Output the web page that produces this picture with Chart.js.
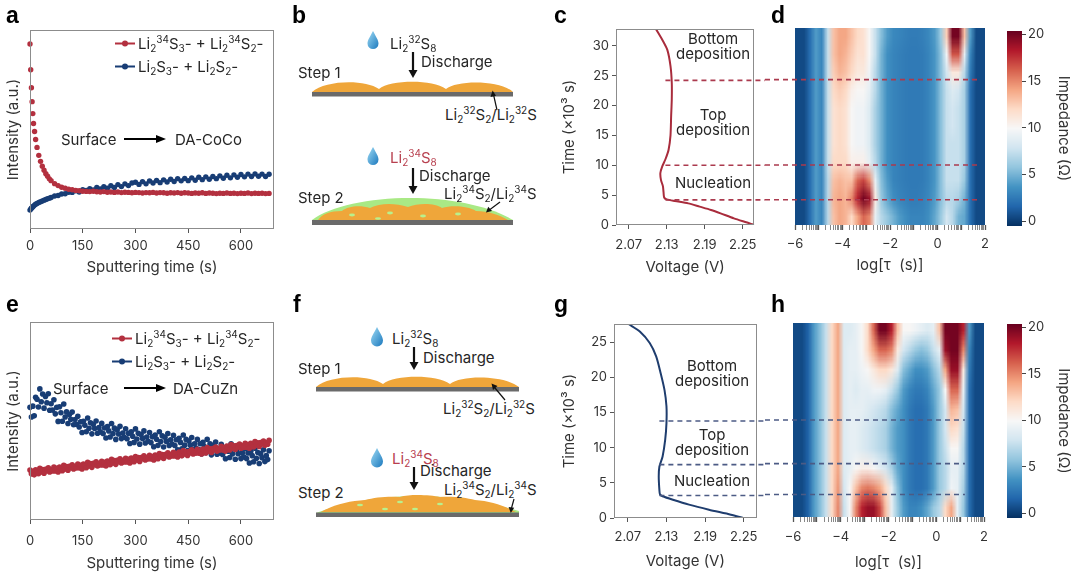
<!DOCTYPE html>
<html>
<head>
<meta charset="utf-8">
<script src="https://cdn.jsdelivr.net/npm/chart.js@4.4.1/dist/chart.umd.min.js"></script>
<style>
  body { margin: 0; background: #fff; width: 1080px; height: 575px; position: relative; overflow: hidden;
         font-family: Inter, "Noto Sans", sans-serif; }
  canvas, svg { position: absolute; }
  .t { position: absolute; font-size: 15px; line-height: 15px; color: #262626; white-space: nowrap; transform: translateY(-50%); }
  .c { transform: translate(-50%, -50%); text-align: center; }
  .t sub, .t sup { font-size: 10px; line-height: 0; position: relative; vertical-align: baseline; }
  .t sub { top: 3px; }
  .t sup { top: -6px; }
  .red { color: #b8404f; }
  .lbl { position: absolute; font: bold 23px "Liberation Sans", Arial, sans-serif; color: #000; line-height: 23px; }
  .mk { display: inline-block; position: relative; width: 20px; height: 2px; vertical-align: middle; margin-right: 3px; top: -1px; }
  .mk::after { content: ""; position: absolute; left: 7px; top: -2px; width: 6px; height: 6px; border-radius: 50%; background: inherit; }
</style>
</head>
<body>

<canvas id="ca" width="280" height="280" style="left:0;top:0"></canvas>
<canvas id="ce" width="280" height="285" style="left:0;top:290px"></canvas>
<canvas id="cc" width="215" height="280" style="left:550px;top:0"></canvas>
<canvas id="cg" width="215" height="285" style="left:550px;top:290px"></canvas>
<canvas id="cd" width="230" height="280" style="left:765px;top:0"></canvas>
<canvas id="ch" width="230" height="285" style="left:765px;top:290px"></canvas>
<canvas id="cbd" width="85" height="280" style="left:995px;top:0"></canvas>
<canvas id="cbh" width="85" height="285" style="left:995px;top:290px"></canvas>

<!-- schematic b -->
<svg width="260" height="240" style="left:290px;top:0">
  <defs>
    <linearGradient id="drop" x1="0" y1="0" x2="1" y2="1">
      <stop offset="0" stop-color="#9fdcf5"/><stop offset="1" stop-color="#1b78bd"/>
    </linearGradient>
  </defs>
  <path d="M83,31 C80,37 77.5,40 77.5,43.5 A5.5,5.5 0 0 0 88.5,43.5 C88.5,40 86,37 83,31Z" fill="url(#drop)"/>
  <line x1="123" y1="52" x2="123" y2="71" stroke="#111" stroke-width="2.2"/>
  <polygon points="118.5,70 127.5,70 123,78" fill="#111"/>
  <path d="M22,92 C35,80 75,79 89,89 C100,80 142,79 156,89 C167,80 210,80 223,92 Z" fill="#efa63a"/>
  <rect x="22" y="92" width="201" height="4.5" fill="#6a6a6a"/>
  <line x1="207" y1="110" x2="203.6" y2="95" stroke="#111" stroke-width="1.2"/>
  <polygon points="200.5,97 206,95.8 202.6,90.5" fill="#111"/>

  <path d="M83,147 C80,153 77.5,156 77.5,159.5 A5.5,5.5 0 0 0 88.5,159.5 C88.5,156 86,153 83,147Z" fill="url(#drop)"/>
  <line x1="123" y1="168" x2="123" y2="187" stroke="#111" stroke-width="2.2"/>
  <polygon points="118.5,186 127.5,186 123,194" fill="#111"/>
  <path d="M22,220 C40,206 80,198 120,198 C160,198 200,206 223,220 Z" fill="#a9e985"/>
  <path d="M28,220 C32,214 40,211 52,211 C58,206 70,205 80,208 C90,203 105,203 118,207 C128,203 145,203 152,208 C162,205 178,206 186,211 C198,211 210,215 218,220 Z" fill="#efa63a"/>
  <ellipse cx="62" cy="215" rx="3" ry="1.4" fill="#b9f08c"/>
  <ellipse cx="100" cy="213" rx="3" ry="1.4" fill="#b9f08c"/>
  <ellipse cx="133" cy="216" rx="3" ry="1.4" fill="#b9f08c"/>
  <ellipse cx="168" cy="214" rx="3" ry="1.4" fill="#b9f08c"/>
  <ellipse cx="88" cy="218.5" rx="3" ry="1.2" fill="#b9f08c"/>
  <rect x="22" y="220" width="201" height="5" fill="#6a6a6a"/>
  <line x1="210" y1="202" x2="200" y2="209.5" stroke="#111" stroke-width="1.2"/>
  <polygon points="196,212.5 198.2,206.8 202,211" fill="#111"/>
</svg>

<!-- schematic f -->
<svg width="260" height="240" style="left:290px;top:290px">
  <defs>
    <linearGradient id="drop2" x1="0" y1="0" x2="1" y2="1">
      <stop offset="0" stop-color="#9fdcf5"/><stop offset="1" stop-color="#1b78bd"/>
    </linearGradient>
  </defs>
  <path d="M87,37 C84,43 81,47 81,50.5 A6,6 0 0 0 93,50.5 C93,47 90,43 87,37Z" fill="url(#drop2)"/>
  <line x1="124" y1="57" x2="124" y2="73" stroke="#111" stroke-width="2.2"/>
  <polygon points="119.5,72 128.5,72 124,80" fill="#111"/>
  <path d="M26,97 C39,85 79,84 93,94 C104,85 146,84 160,94 C171,85 214,85 229,97 Z" fill="#efa63a"/>
  <rect x="26" y="97" width="203" height="4.5" fill="#6a6a6a"/>
  <line x1="215" y1="110" x2="205" y2="98" stroke="#111" stroke-width="1.2"/>
  <polygon points="201.5,93.5 207.5,96 203,100" fill="#111"/>

  <path d="M87,158 C84,164 81,168 81,171.5 A6,6 0 0 0 93,171.5 C93,168 90,164 87,158Z" fill="url(#drop2)"/>
  <line x1="124" y1="177" x2="124" y2="193" stroke="#111" stroke-width="2.2"/>
  <polygon points="119.5,192 128.5,192 124,200" fill="#111"/>
  <path d="M26,223 C50,214 90,206 125,206 C170,206 205,214 229,221 L229,223 Z" fill="#a9e985"/>
  <path d="M31,222 C45,214 60,211 75,210 C85,207 100,206 110,207 C120,204 140,205 150,207 C160,206 175,207 185,210 C200,211 215,216 226,222 Z" fill="#efa63a"/>
  <ellipse cx="70" cy="215" rx="3" ry="1.3" fill="#b9f08c"/>
  <ellipse cx="110" cy="212" rx="3" ry="1.3" fill="#b9f08c"/>
  <ellipse cx="150" cy="214" rx="3" ry="1.3" fill="#b9f08c"/>
  <ellipse cx="125" cy="219" rx="3" ry="1.2" fill="#b9f08c"/>
  <ellipse cx="95" cy="219" rx="3" ry="1.2" fill="#b9f08c"/>
  <rect x="26" y="222.5" width="203" height="4.5" fill="#6a6a6a"/>
  <line x1="224" y1="209" x2="221.5" y2="218" stroke="#111" stroke-width="1.2"/>
  <polygon points="220.8,223 218.6,217 224.2,217.8" fill="#111"/>
</svg>

<!-- panel letters -->
<div class="lbl" style="left:6px;top:4px">a</div>
<div class="lbl" style="left:292px;top:4px">b</div>
<div class="lbl" style="left:554px;top:4px">c</div>
<div class="lbl" style="left:771px;top:4px">d</div>
<div class="lbl" style="left:6px;top:293px">e</div>
<div class="lbl" style="left:293px;top:293px">f</div>
<div class="lbl" style="left:554px;top:293px">g</div>
<div class="lbl" style="left:771px;top:293px">h</div>

<!-- panel a texts -->
<div class="t" style="left:115px;top:43px"><span class="mk" style="background:#b3303f"></span>Li<sub>2</sub><sup>34</sup>S<sub>3</sub>- + Li<sub>2</sub><sup>34</sup>S<sub>2</sub>-</div>
<div class="t" style="left:115px;top:66px"><span class="mk" style="background:#183d75"></span>Li<sub>2</sub>S<sub>3</sub>- + Li<sub>2</sub>S<sub>2</sub>-</div>
<div class="t" style="left:61px;top:139px">Surface</div>
<svg width="44" height="10" style="left:124px;top:134px"><line x1="0" y1="5" x2="34" y2="5" stroke="#000" stroke-width="2"/><polygon points="32,1 42,5 32,9" fill="#000"/></svg>
<div class="t" style="left:175px;top:139px">DA-CoCo</div>

<!-- panel e texts -->
<div class="t" style="left:112px;top:338px"><span class="mk" style="background:#b3303f"></span>Li<sub>2</sub><sup>34</sup>S<sub>3</sub>- + Li<sub>2</sub><sup>34</sup>S<sub>2</sub>-</div>
<div class="t" style="left:112px;top:361px"><span class="mk" style="background:#183d75"></span>Li<sub>2</sub>S<sub>3</sub>- + Li<sub>2</sub>S<sub>2</sub>-</div>
<div class="t" style="left:53px;top:388px">Surface</div>
<svg width="44" height="10" style="left:124px;top:383px"><line x1="0" y1="5" x2="34" y2="5" stroke="#000" stroke-width="2"/><polygon points="32,1 42,5 32,9" fill="#000"/></svg>
<div class="t" style="left:173px;top:388px">DA-CuZn</div>

<!-- panel b texts -->
<div class="t" style="left:390px;top:43px">Li<sub>2</sub><sup>32</sup>S<sub>8</sub></div>
<div class="t" style="left:421px;top:61px">Discharge</div>
<div class="t" style="left:298px;top:72px">Step 1</div>
<div class="t" style="left:445px;top:114px">Li<sub>2</sub><sup>32</sup>S<sub>2</sub>/Li<sub>2</sub><sup>32</sup>S</div>
<div class="t red" style="left:390px;top:157px">Li<sub>2</sub><sup>34</sup>S<sub>8</sub></div>
<div class="t" style="left:419px;top:175px">Discharge</div>
<div class="t" style="left:298px;top:197px">Step 2</div>
<div class="t" style="left:444px;top:193px">Li<sub>2</sub><sup>34</sup>S<sub>2</sub>/Li<sub>2</sub><sup>34</sup>S</div>

<!-- panel f texts -->
<div class="t" style="left:392px;top:338px">Li<sub>2</sub><sup>32</sup>S<sub>8</sub></div>
<div class="t" style="left:423px;top:357px">Discharge</div>
<div class="t" style="left:298px;top:368px">Step 1</div>
<div class="t" style="left:443px;top:408px">Li<sub>2</sub><sup>32</sup>S<sub>2</sub>/Li<sub>2</sub><sup>32</sup>S</div>
<div class="t red" style="left:392px;top:458px">Li<sub>2</sub><sup>34</sup>S<sub>8</sub></div>
<div class="t" style="left:420px;top:470px">Discharge</div>
<div class="t" style="left:298px;top:492px">Step 2</div>
<div class="t" style="left:444px;top:489px">Li<sub>2</sub><sup>34</sup>S<sub>2</sub>/Li<sub>2</sub><sup>34</sup>S</div>

<!-- panel c / g stage labels -->
<div class="t c" style="left:713px;top:46px">Bottom<br>deposition</div>
<div class="t c" style="left:713px;top:122px">Top<br>deposition</div>
<div class="t c" style="left:713px;top:182px">Nucleation</div>
<div class="t c" style="left:712px;top:373px">Bottom<br>deposition</div>
<div class="t c" style="left:712px;top:442px">Top<br>deposition</div>
<div class="t c" style="left:712px;top:480px">Nucleation</div>

<script>
// ---- data ----
const sputterTicks = [0, 150, 300, 450, 600];
const voltTicks = [2.07, 2.13, 2.19, 2.25];
const tauLabels = [-6, -4, -2, 0, 2];
const impTicks = [0, 5, 10, 15, 20];

// panel a: ToF-SIMS depth profile on DA-CoCo (normalised intensity)
const aTime = [0, 2, 4, 6, 8, 10, 13, 16, 20, 25, 30, 35, 40, 45, 50, 55, 60,
  70, 80, 90, 100, 110, 120, 130, 140, 150, 160, 170, 180, 190, 200, 210, 220, 230, 240, 250, 260,
  270, 280, 290, 300, 310, 320, 330, 340, 350, 360, 370, 380, 390, 400, 410, 420, 430, 440, 450, 460,
  470, 480, 490, 500, 510, 520, 530, 540, 550, 560, 570, 580, 590, 600, 610, 620, 630, 640, 650, 660, 670, 680];
const aRed34 = [0.93, 0.80, 0.71, 0.64, 0.58, 0.53, 0.49, 0.45, 0.41, 0.37, 0.34, 0.315, 0.295, 0.278, 0.265, 0.252, 0.243,
  0.228, 0.218, 0.21, 0.205, 0.2, 0.197, 0.194, 0.192, 0.19, 0.189,
  0.188, 0.19, 0.187, 0.186, 0.188, 0.185, 0.186, 0.184, 0.186, 0.183,
  0.185, 0.184, 0.182, 0.184, 0.183, 0.181, 0.183, 0.182, 0.184, 0.181,
  0.183, 0.182, 0.18, 0.182, 0.181, 0.183, 0.18, 0.182, 0.181, 0.179,
  0.181, 0.18, 0.182, 0.179, 0.181, 0.18, 0.178, 0.18, 0.179, 0.181,
  0.179, 0.18, 0.178, 0.18, 0.179, 0.181, 0.178, 0.18, 0.179, 0.18, 0.178, 0.179];
const aBlue32 = [0.095, 0.1, 0.104, 0.108, 0.112, 0.115, 0.12, 0.124, 0.128, 0.133, 0.137, 0.141, 0.145, 0.148, 0.152, 0.155, 0.158,
  0.166, 0.168, 0.176, 0.177, 0.185, 0.184, 0.192, 0.186, 0.197, 0.194,
  0.203, 0.196, 0.209, 0.201, 0.213, 0.205, 0.217, 0.209, 0.223, 0.213,
  0.227, 0.218, 0.231, 0.235, 0.224, 0.238, 0.227, 0.241, 0.231, 0.244,
  0.233, 0.247, 0.236, 0.25, 0.239, 0.253, 0.242, 0.254, 0.243, 0.257,
  0.245, 0.26, 0.248, 0.262, 0.25, 0.264, 0.253, 0.267, 0.255, 0.27,
  0.257, 0.272, 0.26, 0.274, 0.262, 0.276, 0.264, 0.277, 0.265, 0.276, 0.264, 0.275];

// panel e: ToF-SIMS depth profile on DA-CuZn
const eTime = [0, 4, 8, 12, 16, 20, 24, 28, 32, 36, 40, 44, 48, 52, 56, 60, 64, 68, 72, 76,
  80, 84, 88, 92, 96, 100, 104, 108, 112, 116, 120, 124, 128, 132, 136, 140, 144, 148, 152, 156,
  160, 164, 168, 172, 176, 180, 184, 188, 192, 196, 200, 204, 208, 212, 216, 220, 224, 228, 232, 236,
  240, 244, 248, 252, 256, 260, 264, 268, 272, 276, 280, 284, 288, 292, 296, 300, 304, 308, 312, 316,
  320, 324, 328, 332, 336, 340, 344, 348, 352, 356, 360, 364, 368, 372, 376, 380, 384, 388, 392, 396,
  400, 404, 408, 412, 416, 420, 424, 428, 432, 436, 440, 444, 448, 452, 456, 460, 464, 468, 472, 476,
  480, 484, 488, 492, 496, 500, 504, 508, 512, 516, 520, 524, 528, 532, 536, 540, 544, 548, 552, 556,
  560, 564, 568, 572, 576, 580, 584, 588, 592, 596, 600, 604, 608, 612, 616, 620, 624, 628, 632, 636,
  640, 644, 648, 652, 656, 660, 664, 668, 672, 676, 680];
const eRed34 = [0.252, 0.233, 0.246, 0.228, 0.253, 0.244, 0.234, 0.261, 0.243, 0.255,
  0.236, 0.256, 0.249, 0.264, 0.243, 0.255, 0.248, 0.267, 0.248, 0.261,
  0.243, 0.268, 0.259, 0.249, 0.276, 0.258, 0.27, 0.251, 0.271, 0.264,
  0.279, 0.258, 0.27, 0.263, 0.282, 0.263, 0.276, 0.258, 0.283, 0.274,
  0.264, 0.291, 0.273, 0.285, 0.266, 0.286, 0.279, 0.294, 0.273, 0.285,
  0.278, 0.297, 0.278, 0.291, 0.273, 0.298, 0.289, 0.279, 0.306, 0.288,
  0.3, 0.281, 0.301, 0.294, 0.309, 0.288, 0.3, 0.293, 0.312, 0.293,
  0.306, 0.288, 0.313, 0.304, 0.294, 0.321, 0.303, 0.315, 0.296, 0.316,
  0.309, 0.324, 0.303, 0.315, 0.308, 0.327, 0.308, 0.321, 0.303, 0.328,
  0.319, 0.309, 0.336, 0.318, 0.33, 0.311, 0.331, 0.324, 0.339, 0.318,
  0.33, 0.323, 0.342, 0.323, 0.336, 0.318, 0.343, 0.334, 0.324, 0.351,
  0.333, 0.345, 0.326, 0.346, 0.339, 0.354, 0.333, 0.345, 0.338, 0.357,
  0.338, 0.351, 0.333, 0.358, 0.349, 0.339, 0.366, 0.348, 0.36, 0.341,
  0.361, 0.354, 0.369, 0.348, 0.36, 0.353, 0.372, 0.353, 0.366, 0.348,
  0.373, 0.364, 0.354, 0.381, 0.363, 0.375, 0.356, 0.376, 0.369, 0.384,
  0.363, 0.375, 0.368, 0.387, 0.368, 0.381, 0.363, 0.388, 0.379, 0.369,
  0.396, 0.378, 0.39, 0.371, 0.391, 0.384, 0.399, 0.378, 0.39, 0.383, 0.402];
const eBlue32 = [0.569, 0.52, 0.575, 0.526, 0.62, 0.61, 0.571, 0.662, 0.597, 0.636,
  0.565, 0.624, 0.592, 0.638, 0.554, 0.587, 0.555, 0.607, 0.536, 0.569,
  0.498, 0.572, 0.542, 0.499, 0.586, 0.52, 0.546, 0.487, 0.533, 0.509,
  0.545, 0.481, 0.507, 0.483, 0.524, 0.47, 0.496, 0.442, 0.499, 0.478,
  0.446, 0.515, 0.463, 0.491, 0.435, 0.483, 0.462, 0.5, 0.438, 0.467,
  0.445, 0.488, 0.437, 0.465, 0.414, 0.472, 0.45, 0.419, 0.487, 0.436,
  0.464, 0.407, 0.456, 0.434, 0.473, 0.411, 0.439, 0.418, 0.461, 0.41,
  0.438, 0.386, 0.445, 0.423, 0.392, 0.46, 0.409, 0.438, 0.383, 0.432,
  0.411, 0.45, 0.389, 0.419, 0.398, 0.442, 0.391, 0.42, 0.37, 0.429,
  0.408, 0.377, 0.446, 0.396, 0.425, 0.369, 0.418, 0.397, 0.437, 0.376,
  0.405, 0.384, 0.428, 0.376, 0.405, 0.354, 0.413, 0.392, 0.36, 0.429,
  0.378, 0.407, 0.351, 0.399, 0.378, 0.417, 0.356, 0.385, 0.363, 0.407,
  0.356, 0.385, 0.334, 0.392, 0.371, 0.34, 0.408, 0.357, 0.385, 0.329,
  0.377, 0.355, 0.394, 0.332, 0.361, 0.339, 0.382, 0.331, 0.36, 0.309,
  0.368, 0.347, 0.316, 0.385, 0.334, 0.363, 0.307, 0.356, 0.335, 0.374,
  0.31, 0.339, 0.318, 0.361, 0.31, 0.339, 0.288, 0.347, 0.325, 0.294,
  0.363, 0.312, 0.341, 0.285, 0.335, 0.315, 0.355, 0.295, 0.325, 0.305, 0.35];

// panels c, g: discharge curves (time in 10^3 s vs voltage)
const cTime = [0, 0.28, 1.11, 1.95, 2.51, 3.07, 3.62, 4.01, 4.29, 4.6, 5.5, 6.5, 7.5, 8.7, 9.8, 11, 12.6, 15, 18.2, 21, 23.8, 26.6, 29.3, 31, 32.8];
const cVoltage = [2.268, 2.261, 2.236, 2.215, 2.2, 2.182, 2.164, 2.143, 2.13, 2.126, 2.125, 2.124, 2.121, 2.12, 2.123, 2.128, 2.133, 2.136, 2.137, 2.138, 2.138, 2.136, 2.131, 2.123, 2.113];
const gTime = [0, 0.47, 1.18, 1.9, 2.6, 3.1, 3.35, 4.0, 5.9, 7.3, 8.76, 11.1, 13.5, 15.9, 18.2, 20.6, 23, 24.9, 26.5, 27.6];
const gVoltage = [2.249, 2.23, 2.196, 2.165, 2.14, 2.124, 2.12, 2.119, 2.118, 2.119, 2.124, 2.128, 2.13, 2.13, 2.127, 2.121, 2.114, 2.104, 2.089, 2.071];
const cStageBounds = [4.2, 10.0, 24.2];
const gStageBounds = [3.2, 7.6, 13.8];

// panels d, h: DRT impedance maps (rows = time in 10^3 s, columns = log tau)
const tauCols = [-5.875, -5.625, -5.375, -5.125, -4.875, -4.625, -4.375, -4.125, -3.875, -3.625, -3.375, -3.125,
  -2.875, -2.625, -2.375, -2.125, -1.875, -1.625, -1.375, -1.125, -0.875, -0.625, -0.375, -0.125,
  0.125, 0.375, 0.625, 0.875, 1.125, 1.375, 1.625, 1.875];
const dRowTimes = [1.5, 4.5, 7.5, 10.5, 13.5, 16.5, 19.5, 22.5, 25.5, 28.5, 31.5];
const dImpedance = [
  [0.5, 0.5, 2, 4, 3, 7, 13, 14, 13.5, 12, 14, 16, 15, 9, 7, 6, 5, 4, 3.5, 3, 3, 3, 3.5, 4.5, 6, 8, 7, 5, 4.5, 2, 0.5, 0.5],
  [0.5, 0.5, 2, 4, 3, 7, 13.5, 14, 13.5, 15, 18, 20, 19, 11, 6, 4.5, 3.5, 3, 2.8, 2.6, 2.6, 2.8, 3.2, 4, 5.5, 7, 7, 6.5, 5, 2, 0.5, 0.5],
  [0.5, 0.5, 2, 4, 3, 7, 13, 13.5, 13, 13, 16, 17, 15, 9, 5.5, 4, 3, 2.8, 2.6, 2.5, 2.5, 2.6, 3, 3.8, 5.5, 7.5, 7.5, 7.5, 6, 2, 0.5, 0.5],
  [0.5, 0.5, 2, 4, 3, 7.5, 12, 12, 12, 10.5, 10.5, 10.5, 9, 7, 5, 3.5, 3, 2.8, 2.6, 2.5, 2.5, 2.6, 3, 3.8, 5.5, 7.5, 7.5, 7.5, 6.5, 2, 0.5, 0.5],
  [0.5, 0.5, 2, 4, 3, 7.5, 11.5, 12, 11.5, 10, 9.5, 9.5, 8.5, 6.5, 5, 3.5, 3, 2.8, 2.6, 2.5, 2.5, 2.6, 3, 3.8, 5.5, 7.5, 7.5, 7.5, 6.5, 2, 0.5, 0.5],
  [0.5, 0.5, 2, 4, 3, 7.5, 11.5, 12, 11.5, 10, 9.5, 9.5, 8.5, 6.5, 5, 3.5, 3, 2.8, 2.6, 2.5, 2.5, 2.6, 3, 3.8, 5.5, 7.5, 8, 7.5, 6.5, 2, 0.5, 0.5],
  [0.5, 0.5, 2, 4, 3, 7.5, 11.5, 12, 11.5, 10, 9.5, 9.5, 8.5, 6.5, 5, 3.5, 3, 2.8, 2.6, 2.5, 2.5, 2.6, 3, 3.8, 5.5, 7.5, 8, 7.5, 6.5, 2, 0.5, 0.5],
  [0.5, 0.5, 2, 4, 3, 7.5, 12, 12.5, 12, 10.5, 10, 10, 9, 7, 5, 3.5, 3, 2.8, 2.6, 2.5, 2.5, 2.6, 3, 3.8, 5.5, 7.5, 8.5, 8, 6.5, 2, 0.5, 0.5],
  [0.5, 0.5, 2, 4, 3, 7.5, 12.5, 13.5, 13, 12, 11, 11, 9.5, 7, 5, 3.5, 3, 2.8, 2.6, 2.5, 2.5, 2.6, 3, 3.8, 5.5, 8, 11, 11, 7, 2.5, 0.5, 0.5],
  [0.5, 0.5, 2, 4, 3, 7.5, 13, 14, 13.5, 12.5, 11.5, 11.5, 10, 7.5, 5, 3.5, 3, 2.8, 2.6, 2.5, 2.5, 2.6, 3, 3.8, 5.5, 9.5, 16.5, 16.5, 9, 3, 0.5, 0.5],
  [0.5, 0.5, 2, 4, 3, 7.5, 13, 14, 14, 13, 12, 11.5, 10, 7.5, 5.5, 4, 3.2, 3, 2.8, 2.6, 2.6, 2.8, 3.2, 4, 6, 12.5, 20, 20, 13, 4, 0.5, 0.5]
];
const hRowTimes = [1.4, 4.2, 7.0, 9.8, 12.6, 15.4, 18.2, 21.0, 23.8, 26.6];
const hImpedance = [
  [0.5, 0.5, 1.5, 4, 5.5, 7.5, 12, 15, 7.5, 10, 15, 18, 19, 19, 17, 13, 9, 6, 4, 3, 3, 3.5, 4.5, 6, 7, 12, 14, 9, 6, 2, 0.5, 0.5],
  [0.5, 0.5, 1.5, 4, 5.5, 7.5, 12, 14.5, 8, 10, 13, 15, 15.5, 15, 14, 12, 9, 5.5, 3.5, 2.5, 2, 2, 2.5, 4, 6, 7, 9.5, 9, 6.5, 2, 0.5, 0.5],
  [0.5, 0.5, 1.5, 4, 5.5, 7.5, 12, 14, 8.5, 9, 10, 10.5, 10.5, 10, 9, 8, 6.5, 4.5, 3.5, 2.5, 2, 2, 2.5, 4, 6, 7, 9, 9, 7, 2, 0.5, 0.5],
  [0.5, 0.5, 1.5, 4, 5.5, 7.5, 12, 14, 8.5, 9, 9, 8.5, 8, 7.5, 7, 6.5, 5, 4, 3.5, 2.5, 2, 2, 2.5, 4, 6, 7.5, 10, 10, 7, 2, 0.5, 0.5],
  [0.5, 0.5, 1.5, 4, 5.5, 7.5, 12, 14, 8.5, 9, 9, 8.5, 8, 7.5, 7, 6.5, 5, 4, 3.5, 2.5, 2, 2, 2.5, 4, 6, 8, 12, 11.5, 7.5, 2, 0.5, 0.5],
  [0.5, 0.5, 1.5, 4, 5.5, 7.5, 12, 14, 8.5, 9, 9, 9, 8.5, 8, 7.5, 7, 5.5, 4.5, 3.5, 2.5, 2, 2, 2.5, 4, 6, 8, 13.5, 13, 8, 2, 0.5, 0.5],
  [0.5, 0.5, 1.5, 4, 5.5, 7.5, 12, 14, 8.5, 9, 8.5, 9, 9, 9.5, 9.5, 9, 7.5, 6, 4, 3, 2.5, 2.5, 3, 4.5, 6, 10, 16, 16, 9, 2, 0.5, 0.5],
  [0.5, 0.5, 1.5, 4, 5.5, 7.5, 12, 14, 8.5, 9, 9, 9.5, 10, 11, 12, 12, 11, 8.5, 5.5, 4.5, 3.5, 3.5, 4, 5.5, 7, 14, 19, 19, 11, 2.5, 0.5, 0.5],
  [0.5, 0.5, 1.5, 4, 5.5, 7.5, 12, 14, 8.5, 9, 9, 10, 12, 14, 16, 16, 15, 11, 8, 7, 6, 5.5, 6, 7.5, 9, 19, 20, 20, 15, 3, 0.5, 0.5],
  [0.5, 0.5, 1.5, 4, 5.5, 7.5, 12, 14, 8.5, 8.5, 9, 10, 12, 16, 20, 20, 18, 13, 10, 10, 9.5, 9, 8.5, 9, 13, 20, 20, 20, 18, 4, 0.5, 0.5]
];

// ---- styling ----
const RED = '#b3303f';
const NAVY = '#183d75';
const IMP_MIN = -0.5, IMP_MAX = 20.35;
const RDBU = ['#053061', '#2166ac', '#4393c3', '#92c5de', '#d1e5f0', '#f7f7f7', '#fddbc7', '#f4a582', '#d6604d', '#b2182b', '#67001f'];

Chart.defaults.font.family = 'Inter, "Noto Sans", sans-serif';
Chart.defaults.font.size = 13;
Chart.defaults.color = '#333';
Chart.defaults.animation = false;
Chart.defaults.events = [];
Chart.defaults.plugins.legend.display = false;
Chart.defaults.plugins.tooltip.enabled = false;

const hex = h => [1, 3, 5].map(i => parseInt(h.slice(i, i + 2), 16));
function impColor(v) {
  let f = (v - IMP_MIN) / (IMP_MAX - IMP_MIN);
  f = Math.max(0, Math.min(1, f)) * (RDBU.length - 1);
  const i = Math.min(Math.floor(f), RDBU.length - 2), w = f - i;
  const a = hex(RDBU[i]), b = hex(RDBU[i + 1]);
  return a.map((c, k) => Math.round(c + (b[k] - c) * w));
}

const pts = (xs, ys) => xs.map((x, i) => ({ x, y: ys[i] }));
const fixTicks = list => s => { s.ticks = list.map(v => ({ value: v })); };
const TITLE_FONT = { size: 15 };

// full box around the plot area
const frame = {
  id: 'frame',
  afterDraw(ch) {
    const { ctx, chartArea: c } = ch;
    ctx.save();
    ctx.strokeStyle = '#8c8c8c';
    ctx.lineWidth = 1;
    ctx.strokeRect(Math.round(c.left) + 0.5, Math.round(c.top) + 0.5, Math.round(c.width) - 1, Math.round(c.height) - 1);
    ctx.restore();
  }
};

// dashed stage boundaries
function stageLines(bounds, color, fromX, toX) {
  return {
    id: 'stages',
    afterDraw(ch) {
      const { ctx, scales: { y } } = ch;
      ctx.save();
      ctx.strokeStyle = color;
      ctx.lineWidth = 1.6;
      ctx.setLineDash([5, 4]);
      bounds.forEach(t => {
        const py = y.getPixelForValue(t);
        ctx.beginPath();
        ctx.moveTo(fromX(ch), py);
        ctx.lineTo(toX(ch), py);
        ctx.stroke();
      });
      ctx.restore();
    }
  };
}

// impedance map: one image pixel per cell, placed with the chart scales
function heatmap(grid, cols, rows) {
  return {
    id: 'heat',
    beforeDatasetsDraw(ch) {
      const { ctx, chartArea: a, scales: { x, y } } = ch;
      const off = document.createElement('canvas');
      off.width = cols.length;
      off.height = rows.length;
      const octx = off.getContext('2d');
      const img = octx.createImageData(cols.length, rows.length);
      grid.forEach((row, j) => row.forEach((v, i) => {
        const k = ((rows.length - 1 - j) * cols.length + i) * 4;
        const [r, g, b] = impColor(v);
        img.data[k] = r; img.data[k + 1] = g; img.data[k + 2] = b; img.data[k + 3] = 255;
      }));
      octx.putImageData(img, 0, 0);
      const hx = (cols[1] - cols[0]) / 2, hy = (rows[1] - rows[0]) / 2;
      const left = x.getPixelForValue(cols[0] - hx), right = x.getPixelForValue(cols[cols.length - 1] + hx);
      const top = y.getPixelForValue(rows[rows.length - 1] + hy), bottom = y.getPixelForValue(rows[0] - hy);
      ctx.save();
      ctx.beginPath();
      ctx.rect(a.left, a.top, a.width, a.height);
      ctx.clip();
      ctx.imageSmoothingEnabled = true;
      ctx.drawImage(off, left, top, right - left, bottom - top);
      ctx.restore();
    }
  };
}

const colorbar = {
  id: 'cbar',
  beforeDatasetsDraw(ch) {
    const { ctx, chartArea: a, scales: { y } } = ch;
    for (let py = Math.floor(a.top); py < a.bottom; py++) {
      const [r, g, b] = impColor(y.getValueForPixel(py + 0.5));
      ctx.fillStyle = `rgb(${r},${g},${b})`;
      ctx.fillRect(a.left, py, a.width, 1);
    }
  }
};

const tickGrid = { display: true, drawOnChartArea: false, tickLength: 4, color: '#555' };

// ---- panels a, e ----
function depthChart(id, time, red, blue, opt) {
  return new Chart(id, {
    type: 'scatter',
    data: {
      datasets: [
        { data: pts(time, red), backgroundColor: RED, pointRadius: opt.r, pointBorderWidth: 0, clip: 5 },
        { data: pts(time, blue), backgroundColor: NAVY, pointRadius: opt.r, pointBorderWidth: 0, clip: 5 }
      ]
    },
    options: {
      responsive: false,
      layout: { padding: { top: opt.top, right: 6 } },
      scales: {
        x: {
          min: 0, max: 694,
          afterBuildTicks: fixTicks(sputterTicks),
          afterFit: s => { s.height = opt.xh; },
          grid: tickGrid, border: { display: false },
          ticks: { padding: opt.tp, maxRotation: 0 },
          title: { display: true, text: 'Sputtering time (s)', font: TITLE_FONT, padding: { top: 0, bottom: opt.tb } }
        },
        y: {
          min: 0, max: 1,
          afterFit: s => { s.width = 30; },
          ticks: { display: false }, grid: { display: false }, border: { display: false },
          title: { display: true, text: 'Intensity (a.u.)', font: TITLE_FONT, padding: { top: 4, bottom: 0 } }
        }
      }
    },
    plugins: [frame]
  });
}
depthChart('ca', aTime, aRed34, aBlue32, { top: 30, xh: 51, tp: 5, tb: 4, r: 2.7 });
depthChart('ce', eTime, eRed34, eBlue32, { top: 32, xh: 55, tp: 9, tb: 3, r: 2.8 });

// ---- panels c, g ----
function dischargeChart(id, volt, time, color, opt) {
  return new Chart(id, {
    type: 'scatter',
    data: {
      datasets: [{ data: pts(volt, time), showLine: true, borderColor: color, borderWidth: 2,
        pointRadius: 0, tension: 0.25 }]
    },
    options: {
      responsive: false,
      layout: { padding: { top: opt.top, right: 6 } },
      scales: {
        x: {
          min: opt.vmin, max: opt.vmax,
          afterBuildTicks: fixTicks(voltTicks),
          afterFit: s => { s.height = opt.xh; },
          grid: tickGrid, border: { display: false },
          ticks: { padding: opt.tp, maxRotation: 0, callback: v => v.toFixed(2) },
          title: { display: true, text: 'Voltage (V)', font: TITLE_FONT, padding: { top: 0, bottom: opt.tb } }
        },
        y: {
          min: 0, max: opt.tmax,
          afterBuildTicks: fixTicks(opt.yt),
          afterFit: s => { s.width = opt.yw; },
          grid: tickGrid, border: { display: false },
          ticks: { padding: 3 },
          title: { display: true, text: 'Time (×10³ s)', font: TITLE_FONT, padding: { top: 10, bottom: 0 } }
        }
      }
    },
    plugins: [frame, stageLines(opt.bounds, opt.dash, ch => ch.scales.x.getPixelForValue(opt.dashFrom), ch => ch.width)]
  });
}
dischargeChart('cc', cVoltage, cTime, '#a92c3c', {
  top: 29, xh: 55, yw: 66, tp: 8, tb: 4, vmin: 2.05, vmax: 2.268, tmax: 32.8,
  yt: [0, 5, 10, 15, 20, 25, 30], bounds: cStageBounds, dash: '#ab3a4e', dashFrom: 2.128
});
dischargeChart('cg', gVoltage, gTime, '#1f3d6e', {
  top: 34, xh: 57, yw: 64, tp: 7, tb: 5, vmin: 2.0485, vmax: 2.27, tmax: 27.6,
  yt: [0, 5, 10, 15, 20, 25], bounds: gStageBounds, dash: '#4c5b85', dashFrom: 2.119
});

// ---- panels d, h ----
const tauTicks = [];
for (let n = -6; n < 2; n++) for (let k = 1; k <= 9; k++) tauTicks.push(n + Math.log10(k));
tauTicks.push(2);

function impedanceMap(id, grid, rows, opt) {
  return new Chart(id, {
    type: 'scatter',
    data: { datasets: [] },
    options: {
      responsive: false,
      layout: { padding: { left: opt.left, top: opt.top, right: 5 } },
      scales: {
        x: {
          min: -6, max: 2,
          afterBuildTicks: fixTicks(tauTicks),
          afterFit: s => { s.height = opt.xh; },
          grid: { display: true, drawOnChartArea: false, tickLength: 5, color: '#555',
                  tickWidth: c => Number.isInteger(Math.round(c.tick.value * 1e6) / 1e6) ? 1.3 : 0.7 },
          border: { display: false },
          ticks: { padding: opt.tp, autoSkip: false, maxRotation: 0,
                   callback: v => tauLabels.some(l => Math.abs(l - v) < 1e-9) ? String(Math.round(v)).replace('-', '−') : '' },
          title: { display: true, text: 'log[τ  (s)]', font: TITLE_FONT, padding: { top: 0, bottom: opt.tb } }
        },
        y: { display: false, min: 0, max: opt.tmax }
      }
    },
    plugins: [heatmap(grid, tauCols, rows), stageLines(opt.bounds, opt.dash, () => 0, ch => ch.scales.x.getPixelForValue(opt.dashTo))]
  });
}
impedanceMap('cd', dImpedance, dRowTimes, { left: 30, top: 28, xh: 55, tp: 6, tb: 6, tmax: 32.8, bounds: cStageBounds, dash: '#ab3a4e', dashTo: 1.7 });
impedanceMap('ch', hImpedance, hRowTimes, { left: 28, top: 33, xh: 58, tp: 7, tb: 4, tmax: 27.6, bounds: gStageBounds, dash: '#4c5b85', dashTo: 1.2 });

function colorbarChart(id, top, bottom) {
  return new Chart(id, {
    type: 'scatter',
    data: { datasets: [] },
    options: {
      responsive: false,
      layout: { padding: { left: 12, top: top, bottom: bottom } },
      scales: {
        x: { display: false },
        y: {
          position: 'right', min: IMP_MIN, max: IMP_MAX,
          afterBuildTicks: fixTicks(impTicks),
          afterFit: s => { s.width = 58; },
          grid: { display: true, drawOnChartArea: false, tickLength: 4, color: '#444' },
          border: { display: false },
          ticks: { padding: 2 },
          title: { display: true, text: 'Impedance (Ω)', font: TITLE_FONT, padding: { top: 7, bottom: 0 } }
        }
      }
    },
    plugins: [colorbar]
  });
}
colorbarChart('cbd', 31, 54);
colorbarChart('cbh', 34, 57);
</script>
</body>
</html>
